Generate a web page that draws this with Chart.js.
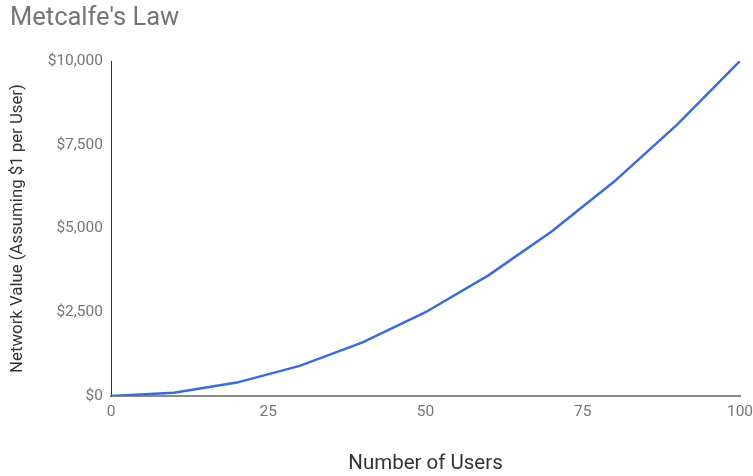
<!DOCTYPE html>
<html>
<head>
<meta charset="utf-8">
<script src="https://cdn.jsdelivr.net/npm/chart.js@4/dist/chart.umd.min.js"></script>
<style>
  html, body { margin: 0; padding: 0; background: #fff; }
  #wrap { width: 753px; height: 476px; }
</style>
</head>
<body>
<div id="wrap"><canvas id="c" width="753" height="476"></canvas></div>
<script>
// Network size (users) and the resulting value in dollars
const users = [0, 10, 20, 30, 40, 50, 60, 70, 80, 90, 100];
const networkValue = [0, 100, 400, 900, 1600, 2500, 3600, 4900, 6400, 8100, 10000];
const xTicks = [0, 25, 50, 75, 100];
const yTicks = [0, 2500, 5000, 7500, 10000];

const points = users.map((u, i) => ({ x: u, y: networkValue[i] }));
const money = v => '$' + Number(v).toLocaleString('en-US');

new Chart(document.getElementById('c'), {
  type: 'line',
  data: {
    datasets: [{
      data: points,
      borderColor: '#3b6bd6',
      borderWidth: 2.5,
      pointRadius: 0,
      tension: 0,
      fill: false
    }]
  },
  options: {
    responsive: false,
    animation: false,
    layout: { padding: { left: 10, right: 13, top: 0, bottom: 0 } },
    plugins: {
      legend: { display: false },
      tooltip: { enabled: false },
      title: {
        display: true,
        text: "Metcalfe's Law",
        align: 'start',
        color: '#757575',
        font: { family: 'Roboto', size: 25.5, weight: 'normal', lineHeight: 1.2 },
        padding: { top: 3, bottom: 27.4 }
      }
    },
    scales: {
      x: {
        type: 'linear',
        min: 0,
        max: 100,
        afterBuildTicks: s => { s.ticks = xTicks.map(v => ({ value: v })); },
        afterFit: s => { s.height = 80; s.paddingLeft = 0; s.paddingRight = 0; },
        grid: { display: false, drawTicks: false },
        border: { display: true, color: '#8a8a8a', width: 2 },
        ticks: {
          color: '#757575',
          padding: 7,
          maxRotation: 0,
          autoSkip: false,
          font: { family: 'Roboto', size: 15.5 }
        },
        title: {
          display: true,
          text: 'Number of Users',
          color: '#333333',
          padding: 2,
          font: { family: 'Roboto', size: 20.5, lineHeight: 1 }
        }
      },
      y: {
        type: 'linear',
        min: 0,
        max: 10000,
        afterBuildTicks: s => { s.ticks = yTicks.map(v => ({ value: v })); },
        afterFit: s => { s.width = 101; },
        grid: { display: false, drawTicks: false },
        border: { display: true, color: '#333333', width: 1 },
        ticks: {
          color: '#757575',
          padding: 8,
          autoSkip: false,
          font: { family: 'Roboto', size: 15.5 },
          callback: v => money(v)
        },
        title: {
          display: true,
          text: 'Network Value (Assuming $1 per User)',
          color: '#333333',
          padding: { top: -1, bottom: 0 },
          font: { family: 'Roboto', size: 16.8, lineHeight: 1 }
        }
      }
    }
  }
});
</script>
</body>
</html>
